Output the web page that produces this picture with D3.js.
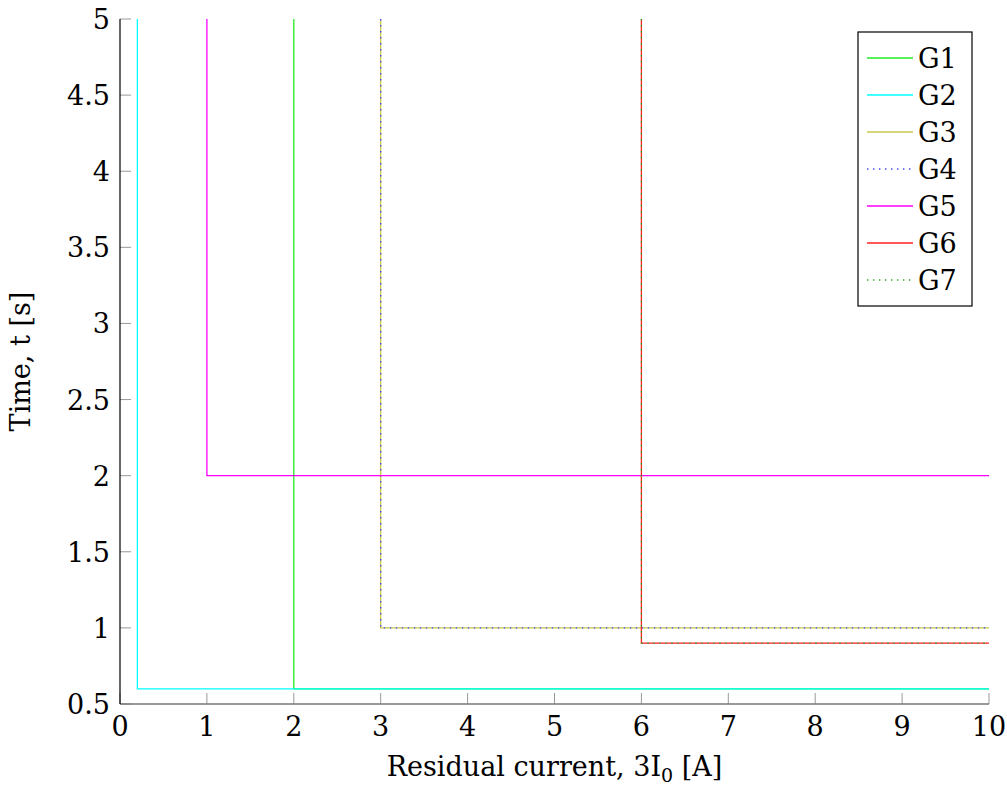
<!DOCTYPE html>
<html>
<head>
<meta charset="utf-8">
<script src="https://cdn.jsdelivr.net/npm/d3@7"></script>
<style>
  body { margin: 0; background: #fff; }
</style>
</head>
<body>
<div id="chart"></div>
<script>
// curves: [current, time] corner points
const seriesNames = ['G1', 'G2', 'G3', 'G4', 'G5', 'G6', 'G7'];
const g1 = [[2, 5], [2, 0.6], [10, 0.6]];
const g2 = [[0.2, 5], [0.2, 0.6], [10, 0.6]];
const g3 = [[3, 5], [3, 1], [10, 1]];
const g4 = [[3, 5], [3, 1], [10, 1]];
const g5 = [[1, 5], [1, 2], [10, 2]];
const g6 = [[6, 5], [6, 0.9], [10, 0.9]];
const g7 = [[6, 5], [6, 0.9], [10, 0.9]];
const xTicks = [0, 1, 2, 3, 4, 5, 6, 7, 8, 9, 10];
const yTicks = [0.5, 1, 1.5, 2, 2.5, 3, 3.5, 4, 4.5, 5];

const seriesData = [g1, g2, g3, g4, g5, g6, g7];
const styles = [
  { color: '#22ee22', dash: null },
  { color: '#00ffff', dash: null },
  { color: '#c8c84a', dash: null },
  { color: '#4444ff', dash: '1.4,4.6' },
  { color: '#ff00ff', dash: null },
  { color: '#ff2222', dash: null },
  { color: '#22aa22', dash: '1.4,4.6' }
];

const FONT = 'DejaVu Serif';
const FS = '27px';
const width = 1007, height = 789;
const margin = { top: 19, right: 18, bottom: 85, left: 120 };
const innerW = width - margin.left - margin.right;
const innerH = height - margin.top - margin.bottom;

const svg = d3.select('#chart').append('svg')
  .attr('width', width)
  .attr('height', height);

const g = svg.append('g')
  .attr('transform', 'translate(' + margin.left + ',' + margin.top + ')');

const xScale = d3.scaleLinear().domain([0, 10]).range([0, innerW]);
const yScale = d3.scaleLinear().domain([0.5, 5]).range([innerH, 0]);

/* ---------- ticks (inward, grey) ---------- */
const tickLen = 11;
g.append('g').selectAll('line')
  .data(xTicks).enter().append('line')
  .attr('x1', d => xScale(d)).attr('x2', d => xScale(d))
  .attr('y1', innerH).attr('y2', innerH - tickLen)
  .attr('stroke', '#999').attr('stroke-width', 1);

g.append('g').selectAll('line')
  .data(yTicks).enter().append('line')
  .attr('x1', 0).attr('x2', tickLen)
  .attr('y1', d => yScale(d)).attr('y2', d => yScale(d))
  .attr('stroke', '#999').attr('stroke-width', 1);

/* ---------- curves ---------- */
const line = d3.line()
  .x(d => xScale(d[0]))
  .y(d => yScale(d[1]));

seriesData.forEach((data, i) => {
  const p = g.append('path')
    .datum(data)
    .attr('d', line)
    .attr('fill', 'none')
    .attr('stroke', styles[i].color)
    .attr('stroke-width', 1.3);
  if (styles[i].dash) p.attr('stroke-dasharray', styles[i].dash);
});

/* ---------- axis lines ---------- */
g.append('line')
  .attr('x1', 0).attr('x2', innerW)
  .attr('y1', innerH).attr('y2', innerH)
  .attr('stroke', '#777').attr('stroke-width', 1.6);
g.append('line')
  .attr('x1', 0).attr('x2', 0)
  .attr('y1', 0).attr('y2', innerH)
  .attr('stroke', '#000').attr('stroke-width', 1.2);

/* ---------- tick labels ---------- */
g.append('g').selectAll('text')
  .data(xTicks).enter().append('text')
  .attr('x', d => xScale(d))
  .attr('y', innerH + 32)
  .attr('text-anchor', 'middle')
  .style('font-family', FONT)
  .style('font-size', FS)
  .text(d => d);

g.append('g').selectAll('text')
  .data(yTicks).enter().append('text')
  .attr('x', -10)
  .attr('y', d => yScale(d) + 10)
  .attr('text-anchor', 'end')
  .style('font-family', FONT)
  .style('font-size', FS)
  .text(d => d);

/* ---------- axis titles ---------- */
const xt = g.append('text')
  .attr('x', innerW / 2)
  .attr('y', innerH + 72)
  .attr('text-anchor', 'middle')
  .style('font-family', FONT)
  .style('font-size', FS);
xt.append('tspan').text('Residual current, 3I');
xt.append('tspan').attr('dy', 6).style('font-size', '19px').text('0');
xt.append('tspan').attr('dy', -6).text(' [A]');

g.append('text')
  .attr('transform', 'translate(' + (-90) + ',' + (innerH / 2) + ') rotate(-90)')
  .attr('text-anchor', 'middle')
  .style('font-family', FONT)
  .style('font-size', FS)
  .text('Time, t [s]');

/* ---------- legend ---------- */
const legend = svg.append('g').attr('transform', 'translate(858,32)');
legend.append('rect')
  .attr('x', 0).attr('y', 0)
  .attr('width', 114).attr('height', 274)
  .attr('fill', '#fff')
  .attr('stroke', '#000').attr('stroke-width', 1.2);

const rowH = 37;
seriesNames.forEach((name, i) => {
  const cy = 26 + i * rowH;
  const ln = legend.append('line')
    .attr('x1', 9).attr('x2', 55)
    .attr('y1', cy).attr('y2', cy)
    .attr('stroke', styles[i].color)
    .attr('stroke-width', 1.3);
  if (styles[i].dash) ln.attr('stroke-dasharray', styles[i].dash);
  legend.append('text')
    .attr('x', 60).attr('y', cy + 10)
    .style('font-family', FONT)
    .style('font-size', FS)
    .text(name);
});
</script>
</body>
</html>
